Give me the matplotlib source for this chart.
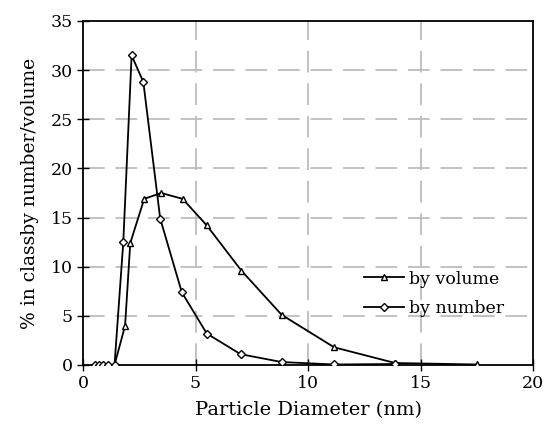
import matplotlib
matplotlib.use("Agg")
import matplotlib.pyplot as plt

# Data
num_x = [0.55, 0.70, 0.88, 1.10, 1.40, 1.79, 2.16, 2.68, 3.43, 4.39, 5.50, 7.00, 8.83, 11.16, 13.87]
num_y = [0.0, 0.0, 0.0, 0.0, 0.0, 12.5, 31.5, 28.8, 14.9, 7.4, 3.2, 1.1, 0.3, 0.05, 0.1]

vol_x = [1.40, 1.87, 2.10, 2.72, 3.47, 4.43, 5.50, 7.04, 8.83, 11.16, 13.87, 17.50]
vol_y = [0.0, 4.0, 12.4, 16.9, 17.5, 16.9, 14.2, 9.6, 5.1, 1.8, 0.2, 0.05]

x_ticks = [0, 5, 10, 15, 20]
y_ticks = [0, 5, 10, 15, 20, 25, 30, 35]

plt.rcParams['font.family'] = ['DejaVu Serif']

fig = plt.figure(figsize=(5.44, 4.37), dpi=100)
ax = fig.add_axes([0.1526, 0.1648, 0.8272, 0.7872])

ax.plot(vol_x, vol_y, color='black', lw=1.3, marker='^', ms=5,
        mfc='white', mec='black', mew=1.0, label='by volume', zorder=3)
ax.plot(num_x, num_y, color='black', lw=1.3, marker='D', ms=4,
        mfc='white', mec='black', mew=1.0, label='by number', zorder=3)

ax.set_xlim(0, 20)
ax.set_ylim(0, 35)
ax.set_xticks(x_ticks)
ax.set_yticks(y_ticks)
ax.tick_params(direction='inout', length=8, width=1.0, labelsize=12.5, colors='black')

dash = (0, (12, 6))
for v in [5, 10, 15]:
    ax.axvline(v, color='#bdbdbd', lw=1.3, ls=dash, zorder=1)
for v in [5, 10, 15, 20, 25, 30]:
    ax.axhline(v, color='#bdbdbd', lw=1.3, ls=dash, zorder=1)

for s in ax.spines.values():
    s.set_linewidth(1.3)
    s.set_color('black')

ax.set_xlabel('Particle Diameter (nm)', fontsize=14, labelpad=6)
ax.set_ylabel('% in classby number/volume', fontsize=13.5, labelpad=8)

leg = ax.legend(loc='upper left', bbox_to_anchor=(0.59, 0.32), frameon=False,
                fontsize=12.5, handlelength=2.3, handletextpad=0.3, labelspacing=0.7)

fig.savefig('out.png', dpi=100)
